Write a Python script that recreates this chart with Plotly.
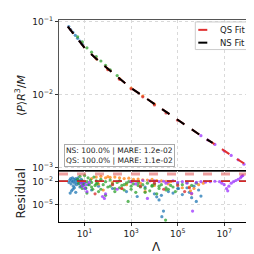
import numpy as np
import plotly.graph_objects as go

# ---------------- data (log10 values) ----------------
fit_log_lambda = [0.28, 0.5, 1.0, 1.5, 2.0, 2.5, 3.0, 3.5, 4.0, 4.5, 5.0, 5.5, 6.0, 6.5, 7.0, 7.5, 7.85]
fit_log_prm = [-1.07, -1.16, -1.36, -1.51, -1.65, -1.78, -1.91, -2.02, -2.13, -2.24, -2.34, -2.45, -2.56, -2.66, -2.77, -2.87, -2.94]
ns_fit_count = 14  # NS fit drawn up to ~10^6.2

main_blue_x = [0.32, 0.4, 0.5, 0.6, 0.7, 0.8, 0.9]
main_blue_y = [-1.07, -1.11, -1.15, -1.19, -1.23, -1.27, -1.31]
main_green_x = [0.7, 0.9, 1.1, 1.3, 1.5, 1.7, 1.9, 2.1, 2.4]
main_green_y = [-1.21, -1.28, -1.36, -1.42, -1.48, -1.54, -1.60, -1.66, -1.74]
main_orange_x = [1.5, 2.0, 2.5, 3.0, 3.5, 4.0]
main_orange_y = [-1.51, -1.65, -1.78, -1.91, -2.02, -2.13]
main_red_x = [2.0, 2.5, 3.0, 3.5, 4.0, 4.5, 5.0]
main_red_y = [-1.66, -1.79, -1.92, -2.03, -2.14, -2.25, -2.35]
main_purple_x = [6.0, 6.3, 6.6, 7.0, 7.3, 7.6, 7.85]
main_purple_y = [-2.56, -2.62, -2.68, -2.77, -2.83, -2.89, -2.95]

blue_res_x = [0.33, 0.36, 0.4, 0.42, 0.45, 0.48, 0.5, 0.52, 0.55, 0.58, 0.6, 0.62, 0.65, 0.68, 0.7, 0.72, 0.75, 0.78, 0.8, 0.83,
              0.86, 0.9, 0.38, 0.44, 0.5, 0.56, 0.62, 0.95, 1.0, 1.05, 1.15, 1.3, 1.6, 2.2, 2.8, 3.26, 3.6, 4.0, 4.1, 4.2,
              4.3, 4.39, 4.32, 4.6, 4.8, 5.0, 5.04, 5.2, 5.4, 5.5, 5.6, 5.7, 5.8, 5.9, 6.0]
blue_res_y = [-2.1, -1.8, -1.6, -2.3, -1.9, -1.5, -2.0, -2.6, -1.7, -2.2, -1.9, -1.6, -2.4, -1.8, -2.1, -1.5, -2.3, -1.9, -2.7, -2.0,
              -1.7, -2.2, -3.5, -3.2, -3.0, -2.8, -3.4, -2.5, -2.1, -2.9, -2.4, -3.1, -2.6, -2.9, -3.3, -3.95, -2.7, -3.6, -4.0, -4.4,
              -3.8, -5.87, -6.6, -3.3, -3.5, -2.9, -2.9, -3.7, -2.8, -3.4, -4.1, -2.6, -4.6, -3.1, -3.9]

orange_res_x = [1.3, 1.5, 1.7, 1.9, 2.0, 2.1, 2.3, 2.5, 2.7, 2.9, 3.1, 3.3, 3.5, 3.7, 3.9, 4.1, 4.3, 4.5, 4.7,
                1.6, 2.2, 2.8, 3.4, 4.0, 4.6, 5.2, 5.5, 5.55, 5.6, 5.7, 5.9, 6.1, 1.8, 2.6, 3.6]
orange_res_y = [-1.6, -1.4, -1.3, -1.5, -1.35, -1.45, -1.4, -1.5, -1.6, -1.55, -1.7, -1.65, -1.75, -1.8, -1.7, -1.85, -1.9, -1.95, -2.0,
                -2.3, -2.1, -2.4, -2.2, -2.5, -2.3, -2.8, -2.7, -3.2, -3.6, -2.9, -2.4, -2.2, -3.1, -2.9, -3.3]

green_res_x = [0.7, 0.75, 0.8, 0.85, 0.9, 0.95, 1.0, 1.05, 1.1, 1.15, 1.2, 1.25, 1.3, 1.35, 1.4, 1.45, 1.5, 1.55, 1.6, 1.7,
               1.8, 1.9, 2.0, 2.1, 2.2, 2.3, 2.4, 2.5, 2.6, 2.7, 2.8, 2.87, 2.9, 3.0, 3.1, 3.2, 3.3, 3.4, 3.5, 3.6,
               3.7, 3.8, 3.9, 4.0, 4.1, 4.2, 4.3, 4.48, 4.5, 4.6, 4.7, 4.8, 4.9, 5.0, 5.2, 5.4, 5.6, 5.8,
               0.9, 1.1, 1.3, 1.5, 1.7, 1.9, 2.1, 2.3, 2.5, 2.7, 3.0, 3.3, 3.6, 3.9, 4.2, 4.5]
green_res_y = [-1.7, -2.2, -1.3, -2.6, -1.9, -2.3, -1.2, -2.8, -2.0, -1.5, -2.4, -1.8, -2.1, -3.0, -1.4, -2.5, -1.9, -2.2, -3.3, -1.7,
               -2.4, -2.0, -2.7, -1.8, -2.3, -2.9, -2.1, -1.9, -2.5, -3.1, -2.2, -4.6, -2.0, -2.6, -2.3, -3.4, -2.1, -2.7, -2.4, -2.9,
               -2.2, -3.2, -2.5, -2.3, -3.6, -2.6, -2.4, -7.05, -2.8, -3.0, -2.5, -2.7, -3.3, -2.3, -2.4, -2.1, -2.5, -2.2,
               -2.9, -3.5, -2.7, -2.3, -3.0, -3.8, -2.6, -3.3, -2.8, -2.4, -3.0, -2.5, -3.4, -2.6, -2.9, -3.1]

red_res_x = [1.45, 2.2, 2.6, 3.0, 3.4, 4.0, 4.4, 5.0, 5.3, 5.5]
red_res_y = [-3.6, -2.4, -2.9, -2.0, -2.6, -2.2, -3.0, -2.5, -3.3, -2.8]

purple_res_x = [0.85, 0.9, 0.95, 1.0, 1.05, 1.1, 1.2, 1.77, 1.85, 1.9, 2.4, 3.0, 3.5, 3.7, 3.8, 4.0, 4.2, 4.4, 4.6, 4.8,
                5.0, 5.2, 5.4, 5.64, 5.6, 5.8, 6.0, 6.2, 6.4, 6.6, 6.8, 6.9, 7.0, 7.1, 7.15, 7.2, 7.3, 7.4, 7.5, 7.6,
                7.7, 7.75, 7.8, 3.2, 4.5]
purple_res_y = [-2.2, -2.6, -2.0, -2.9, -2.4, -3.3, -2.1, -3.95, -4.2, -3.6, -3.0, -2.0, -1.85, -4.2, -1.9, -1.9, -2.0, -1.95, -2.0, -1.9,
                -2.1, -2.0, -2.2, -5.87, -3.55, -2.1, -2.0, -2.05, -2.0, -1.95, -2.0, -2.2, -2.4, -2.9, -3.2, -2.6, -2.2, -2.0, -1.85, -1.7,
                -1.5, -1.3, -1.2, -2.3, -2.2]

ns_mare = 1.2e-2
qs_mare = 1.1e-2
upper_ref = 1.0e-1

legend_labels = ["QS Fit", "NS Fit"]
x_tickvals = [1e1, 1e3, 1e5, 1e7]
x_ticktext = ["10<sup>1</sup>", "10<sup>3</sup>", "10<sup>5</sup>", "10<sup>7</sup>"]
y_tickvals = [1e-1, 1e-2, 1e-3]
y_ticktext = ["10<sup>−1</sup>", "10<sup>−2</sup>", "10<sup>−3</sup>"]
r_tickvals = [1e-2, 1e-5]
r_ticktext = ["10<sup>−2</sup>", "10<sup>−5</sup>"]

# ---------------- figure ----------------
def p(a):
    return 10 ** np.array(a, dtype=float)

C_BLUE, C_ORANGE, C_GREEN, C_RED, C_PURPLE = "#1f77b4", "#ff7f0e", "#2ca02c", "#d62728", "#9b30ff"
QS_COLOR, NS_COLOR = "#e03030", "black"
fig = go.Figure()
mk = dict(size=3.2, opacity=0.75)

for xs, ys, c in [(main_blue_x, main_blue_y, C_BLUE), (main_orange_x, main_orange_y, C_ORANGE),
                  (main_green_x, main_green_y, C_GREEN), (main_red_x, main_red_y, C_RED),
                  (main_purple_x, main_purple_y, C_PURPLE)]:
    fig.add_trace(go.Scatter(x=p(xs), y=p(ys), mode="markers", marker=dict(color=c, **mk),
                             showlegend=False, xaxis="x", yaxis="y"))

fig.add_trace(go.Scatter(x=p(fit_log_lambda), y=p(fit_log_prm), mode="lines", name=legend_labels[0],
                         line=dict(color=QS_COLOR, width=2, dash="dash"), xaxis="x", yaxis="y", showlegend=False))
fig.add_trace(go.Scatter(x=p(fit_log_lambda[:ns_fit_count]), y=p(fit_log_prm[:ns_fit_count]), mode="lines",
                         name=legend_labels[1], line=dict(color=NS_COLOR, width=2, dash="dash"), xaxis="x", yaxis="y",
                         showlegend=False))

for xs, ys, c in [(blue_res_x, blue_res_y, C_BLUE), (orange_res_x, orange_res_y, C_ORANGE),
                  (green_res_x, green_res_y, C_GREEN), (red_res_x, red_res_y, C_RED),
                  (purple_res_x, purple_res_y, C_PURPLE)]:
    fig.add_trace(go.Scatter(x=p(xs), y=p(ys), mode="markers", marker=dict(color=c, **mk),
                             showlegend=False, xaxis="x2", yaxis="y2"))

# residual reference lines
xr = [10 ** -0.1, 10 ** 8.28]
fig.add_trace(go.Scatter(x=xr, y=[upper_ref, upper_ref], mode="lines", showlegend=False,
                         line=dict(color="rgba(214,39,40,0.45)", width=3, dash="dash"), xaxis="x2", yaxis="y2"))
fig.add_trace(go.Scatter(x=xr, y=[ns_mare, ns_mare], mode="lines", showlegend=False,
                         line=dict(color="#5a0000", width=1.2, dash="dash"), xaxis="x2", yaxis="y2"))
fig.add_trace(go.Scatter(x=xr, y=[qs_mare, qs_mare], mode="lines", showlegend=False,
                         line=dict(color="#d62728", width=1.5, dash="dash"), xaxis="x2", yaxis="y2"))

split = (214 - 162) / 205.0
tickfont = dict(family="DejaVu Sans", size=9, color="#222")
grid = dict(showgrid=True, gridcolor="#d9d9d9", gridwidth=1, griddash="dot")

fig.update_layout(
    width=254, height=254, margin=dict(l=51, r=7, t=9, b=40),
    paper_bgcolor="white", plot_bgcolor="white",
    font=dict(family="DejaVu Sans", color="#222"),
    xaxis=dict(type="log", range=[-0.1, 8.28], domain=[0, 1], anchor="y", showticklabels=False,
               tickvals=x_tickvals, ticks="", showline=True, mirror=True, linecolor="#555", linewidth=1.2,
               zeroline=False, **grid),
    yaxis=dict(type="log", range=[-3.04, -0.98], domain=[split, 1], anchor="x", tickvals=y_tickvals,
               ticktext=y_ticktext, ticks="outside", ticklen=3, tickcolor="#333", tickfont=tickfont,
               showline=True, mirror=True, linecolor="#555", linewidth=1.2, zeroline=False, **grid),
    xaxis2=dict(type="log", range=[-0.1, 8.28], domain=[0, 1], anchor="y2", tickvals=x_tickvals,
                ticktext=x_ticktext, ticks="outside", ticklen=3, tickcolor="#333", tickfont=tickfont,
                showline=True, mirror=True, linecolor="black", linewidth=1.2, zeroline=False, **grid),
    yaxis2=dict(type="log", range=[-7.3, -0.57], domain=[0, split], anchor="x2", tickvals=r_tickvals,
                ticktext=r_ticktext, ticks="outside", ticklen=3, tickcolor="#333", tickfont=tickfont,
                showline=True, mirror=True, linecolor="black", linewidth=1.2, zeroline=False, **grid),
    showlegend=False,
)

def px_x(v):
    return (v - 51) / 196.0

def px_y(v):
    return (214 - v) / 205.0

# manual legend (box, line samples, labels)
fig.add_shape(type="rect", xref="paper", yref="paper", x0=px_x(188), x1=px_x(243), y0=px_y(39), y1=px_y(11),
              line=dict(color="#cccccc", width=1), fillcolor="rgba(255,255,255,0.9)", layer="above")
for row_y, col, lab in [(19, QS_COLOR, legend_labels[0]), (32, NS_COLOR, legend_labels[1])]:
    fig.add_shape(type="line", xref="paper", yref="paper", x0=px_x(191), x1=px_x(207), y0=px_y(row_y), y1=px_y(row_y),
                  line=dict(color=col, width=2, dash="dash"), layer="above")
    fig.add_annotation(xref="paper", yref="paper", x=px_x(211), y=px_y(row_y), text=lab, showarrow=False,
                       xanchor="left", yanchor="middle", font=dict(size=8.5, family="DejaVu Sans", color="#222"))

fig.add_annotation(xref="paper", yref="paper", x=0.311, y=0.327, xanchor="center", yanchor="middle",
                   text="NS: 100.0% | MARE: 1.2e-02<br>QS: 100.0% | MARE: 1.1e-02",
                   showarrow=False, align="left", font=dict(size=7.5, family="DejaVu Sans", color="#222"),
                   bgcolor="white", bordercolor="#aaaaaa", borderwidth=1, borderpad=1)
fig.add_annotation(xref="paper", yref="paper", x=-38 / 196, y=(214 - 85) / 205, text="⟨<i>P</i>⟩<i>R</i><sup>3</sup>/<i>M</i>",
                   textangle=-90, showarrow=False, font=dict(size=11, family="DejaVu Sans", color="#222"),
                   xanchor="center", yanchor="middle")
fig.add_annotation(xref="paper", yref="paper", x=-38 / 196, y=(214 - 185) / 205, text="Residual",
                   textangle=-90, showarrow=False, font=dict(size=12, family="DejaVu Sans", color="#222"),
                   xanchor="center", yanchor="middle")
fig.add_annotation(xref="paper", yref="paper", x=(149 - 51) / 196, y=(214 - 239) / 205, text="Λ",
                   showarrow=False, font=dict(size=12, family="DejaVu Sans", color="#222"),
                   xanchor="center", yanchor="middle")

fig.write_html("out.html")
